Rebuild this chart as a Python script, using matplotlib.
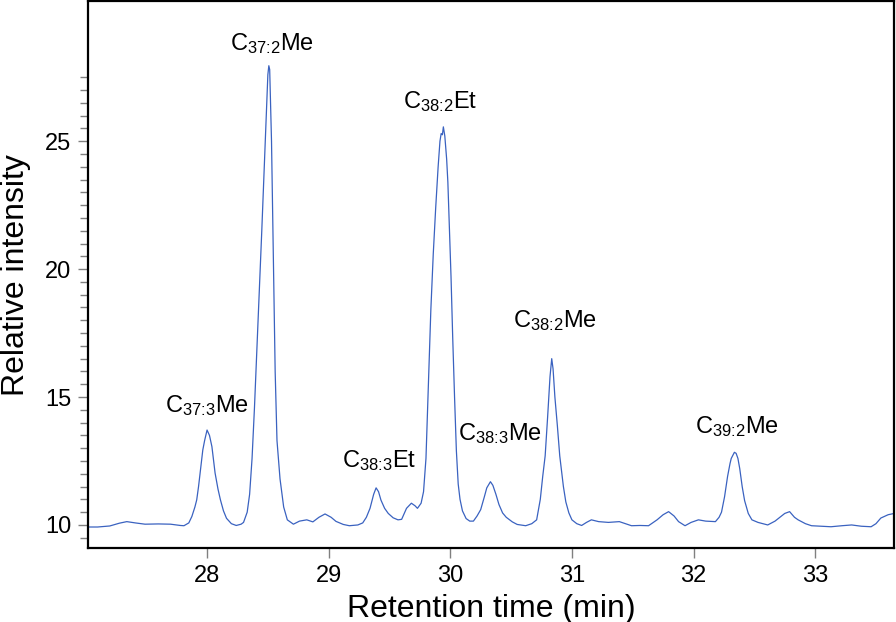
import matplotlib
matplotlib.use('Agg')
import matplotlib.pyplot as plt
import numpy as np

plt.rcParams['font.family'] = ['Liberation Sans', 'DejaVu Sans']
plt.rcParams['mathtext.fontset'] = 'custom'
plt.rcParams['mathtext.rm'] = 'Liberation Sans'
plt.rcParams['mathtext.default'] = 'regular'

# trace (retention time in min, relative intensity)
rt = [27.02, 27.10, 27.20, 27.28, 27.34, 27.41, 27.49, 27.60, 27.70, 27.78,
      27.81, 27.85, 27.875, 27.90, 27.915, 27.93, 27.943, 27.965, 27.98, 28.00,
      28.02, 28.04, 28.066, 28.09, 28.11, 28.135, 28.16, 28.20, 28.24, 28.28,
      28.30, 28.33, 28.35, 28.37, 28.39, 28.42, 28.45, 28.48, 28.50, 28.508,
      28.515, 28.53, 28.545, 28.56, 28.575, 28.60, 28.63, 28.66, 28.71, 28.76,
      28.82, 28.87, 28.92, 28.97, 29.02, 29.06, 29.12, 29.17, 29.24, 29.28,
      29.31, 29.34, 29.37, 29.39, 29.41, 29.43, 29.46, 29.49, 29.53, 29.57,
      29.60, 29.64, 29.68, 29.71, 29.73, 29.76, 29.78, 29.80, 29.82, 29.84,
      29.86, 29.88, 29.90, 29.915, 29.925, 29.935, 29.943, 29.955, 29.97, 29.98,
      29.995, 30.006, 30.02, 30.035, 30.05, 30.065, 30.08, 30.10, 30.13, 30.16,
      30.19, 30.22, 30.25, 30.28, 30.30, 30.33, 30.35, 30.375, 30.40, 30.43,
      30.46, 30.51, 30.55, 30.62, 30.67, 30.71, 30.74, 30.76, 30.78, 30.80,
      30.82, 30.834, 30.845, 30.86, 30.88, 30.90, 30.93, 30.95, 30.975, 31.00,
      31.04, 31.08, 31.12, 31.16, 31.22, 31.30, 31.39, 31.49, 31.56, 31.63,
      31.70, 31.75, 31.795, 31.84, 31.877, 31.93, 31.98, 32.04, 32.10, 32.18,
      32.21, 32.23, 32.255, 32.28, 32.30, 32.31, 32.336, 32.35, 32.365, 32.38,
      32.40, 32.42, 32.45, 32.48, 32.53, 32.61, 32.67, 32.71, 32.75, 32.79,
      32.83, 32.86, 32.92, 32.97, 33.05, 33.13, 33.22, 33.30, 33.38, 33.46,
      33.50, 33.54, 33.60, 33.65]
intensity = [9.92, 9.92, 9.96, 10.07, 10.13, 10.08, 10.03, 10.04, 10.03, 9.98,
             9.97, 10.08, 10.33, 10.70, 10.98, 11.50, 12.03, 12.93, 13.30, 13.71,
             13.50, 13.06, 12.03, 11.40, 10.98, 10.55, 10.26, 10.05, 9.98, 10.03,
             10.10, 10.50, 11.20, 12.60, 14.60, 18.00, 21.50, 25.20, 27.60, 27.95,
             27.80, 25.00, 20.50, 16.00, 13.30, 11.80, 10.70, 10.20, 10.03, 10.15,
             10.20, 10.12, 10.30, 10.43, 10.30, 10.14, 10.02, 9.97, 10.00, 10.08,
             10.30, 10.65, 11.20, 11.45, 11.30, 10.97, 10.65, 10.45, 10.28, 10.20,
             10.22, 10.65, 10.85, 10.75, 10.65, 10.85, 11.30, 12.60, 15.50, 18.40,
             20.60, 22.40, 24.00, 25.00, 25.30, 25.25, 25.56, 25.20, 24.30, 23.40,
             21.30, 19.70, 17.30, 15.00, 12.90, 11.60, 11.00, 10.55, 10.25, 10.15,
             10.15, 10.35, 10.60, 11.10, 11.45, 11.69, 11.55, 11.20, 10.80, 10.47,
             10.30, 10.12, 10.02, 9.97, 10.05, 10.20, 11.00, 11.90, 12.70, 14.20,
             15.80, 16.50, 16.10, 15.00, 13.90, 12.70, 11.50, 10.90, 10.47, 10.20,
             10.05, 9.98, 10.10, 10.20, 10.13, 10.10, 10.13, 9.97, 9.98, 9.97,
             10.20, 10.40, 10.52, 10.35, 10.13, 9.97, 10.10, 10.20, 10.15, 10.13,
             10.30, 10.50, 11.10, 11.90, 12.40, 12.60, 12.84, 12.80, 12.60, 12.20,
             11.50, 10.95, 10.45, 10.20, 10.10, 10.00, 10.15, 10.30, 10.45, 10.52,
             10.30, 10.20, 10.05, 9.97, 9.95, 9.93, 9.97, 10.00, 9.95, 9.93,
             10.05, 10.27, 10.40, 10.45]

# peak labels
peak_names = [r'C$_\text{37:3}$Me', r'C$_\text{37:2}$Me', r'C$_\text{38:3}$Et',
              r'C$_\text{38:2}$Et', r'C$_\text{38:3}$Me', r'C$_\text{38:2}$Me',
              r'C$_\text{39:2}$Me']
label_x = [28.00, 28.53, 29.414, 29.92, 30.405, 30.86, 32.36]
label_y = [14.41, 28.55, 12.27, 26.29, 13.32, 17.73, 13.59]

x_ticks = [28, 29, 30, 31, 32, 33]
y_ticks = [10, 15, 20, 25]
y_minor = [9.5, 10.5, 11, 11.5, 12, 12.5, 13, 13.5, 14, 14.5, 15.5, 16, 16.5,
           17, 17.5, 18, 18.5, 19, 19.5, 20.5, 21, 21.5, 22, 22.5, 23, 23.5,
           24, 24.5, 25.5, 26, 26.5, 27, 27.5]

fig = plt.figure(figsize=(8.96, 6.22), dpi=100)
ax = fig.add_axes([0.0982, 0.119, 0.8998, 0.879])

ax.plot(rt, intensity, color='#3a62c0', lw=0.9)

for name, x, y in zip(peak_names, label_x, label_y):
    ax.text(x, y, name, ha='center', va='baseline', fontsize=17)

ax.set_xlim(27.021, 33.65)
ax.set_ylim(9.10, 30.47)
ax.set_xticks(x_ticks)
ax.set_yticks(y_ticks)
ax.set_yticks(y_minor, minor=True)

for s in ax.spines.values():
    s.set_linewidth(1.6)
ax.tick_params(axis='both', which='major', direction='out', length=7, width=1,
               color='#808080', labelsize=17, pad=5)
ax.tick_params(axis='y', which='minor', direction='out', length=6, width=1,
               color='#808080')

ax.set_xlabel('Retention time (min)', fontsize=23, labelpad=5)
ax.set_ylabel('Relative intensity', fontsize=23, labelpad=10)

fig.savefig('out.png', dpi=100)
